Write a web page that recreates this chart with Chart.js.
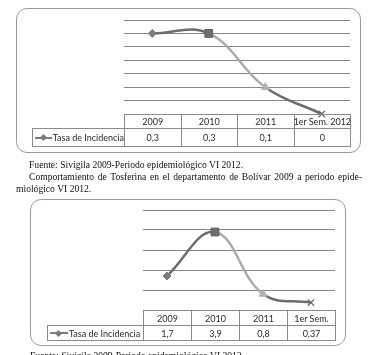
<!DOCTYPE html>
<html><head><meta charset="utf-8">
<script src="https://cdn.jsdelivr.net/npm/chart.js@4"></script>
<style>
html,body{margin:0;padding:0;background:#fff;}
body{width:383px;height:355px;overflow:hidden;position:relative;}
.box{position:absolute;border:1.5px solid #9a9a9a;border-radius:11px;box-sizing:border-box;}
.cv{position:absolute;}
.cell{position:absolute;box-sizing:border-box;font-family:Lato,"Open Sans",sans-serif;font-size:9px;color:#2a2a2a;
 display:flex;align-items:center;justify-content:center;white-space:nowrap;}
.txt{position:absolute;font-family:"Liberation Serif","Times New Roman",serif;font-size:9.6px;color:#111;white-space:nowrap;}
.just{text-align:justify;text-align-last:justify;white-space:normal;}
.leg{display:inline-block;position:relative;width:18px;height:8px;margin-right:1px;vertical-align:middle;}
.leg:before{content:"";position:absolute;left:0;right:0;top:3px;height:2px;background:#7a7a7a;}
.leg:after{content:"";position:absolute;left:6px;top:1.5px;width:5px;height:5px;background:#7a7a7a;transform:rotate(45deg);}
</style></head>
<body>
<div class="box" style="left:16px;top:8px;width:345px;height:145px"></div>
<div class="box" style="left:30px;top:199px;width:316px;height:147px"></div>
<canvas id="c1" class="cv" width="246" height="114" style="left:114px;top:10px"></canvas>
<canvas id="c2" class="cv" width="212" height="120" style="left:133px;top:200px"></canvas>
<div id="t1"></div><div id="t2"></div>
<div class="txt" style="left:29px;top:159px">Fuente: Sivigila 2009-Periodo epidemiológico VI 2012.</div>
<div class="txt just" style="left:29px;top:171px;width:333px">Comportamiento de Tosferina en el departamento de Bolívar 2009 a periodo epide-</div>
<div class="txt" style="left:16px;top:183px">miológico VI 2012.</div>
<div class="txt" style="left:30px;top:350px">Fuente: Sivigila 2009-Periodo epidemiológico VI 2012.</div>
<script>
// ---- data ----
const seriesName = "Tasa de Incidencia";
const categories1 = ["2009", "2010", "2011", "1er Sem. 2012"];
const values1 = [0.3, 0.3, 0.1, 0];
const categories2 = ["2009", "2010", "2011", "1er Sem."];
const values2 = [1.7, 3.9, 0.8, 0.37];

function fmt(v){ return String(v).replace('.', ','); }

function makeTable(id, left, top, labelW, colW, h1, h2, cats, vals){
  const el = document.getElementById(id);
  let html = '';
  const bc = '#8a8a8a';
  cats.forEach((c,i)=>{
    const x = left + labelW + i*colW;
    html += `<div class="cell" style="left:${x}px;top:${top}px;width:${colW+1}px;height:${h1+1}px;border:1px solid ${bc}">${c}</div>`;
    html += `<div class="cell" style="left:${x}px;top:${top+h1}px;width:${colW+1}px;height:${h2+1}px;border:1px solid ${bc}">${fmt(vals[i])}</div>`;
  });
  html += `<div class="cell" style="left:${left}px;top:${top+h1}px;width:${labelW+1}px;height:${h2+1}px;border:1px solid ${bc};justify-content:flex-start;padding-left:2px"><span class="leg"></span>${seriesName}</div>`;
  el.innerHTML = html;
}
makeTable('t1', 32, 114, 92, 56.5, 14, 18, categories1, values1);
makeTable('t2', 47, 310, 96, 48, 15, 15, categories2, values2);

function makeChart(id, labels, values, ymax, step, pad){
  const segCols = ['#6c6c6c', '#ababab', '#6c6c6c'];
  new Chart(document.getElementById(id), {
    type: 'line',
    data: { labels: labels, datasets: [{
      data: values, borderWidth: 2.5, tension: 0.4, clip: false,
      segment: { borderColor: c => segCols[c.p0DataIndex] },
      borderColor: '#6c6c6c',
      pointStyle: ['rectRot', 'rect', 'triangle', 'crossRot'],
      pointRadius: [4, 5.5, 4.5, 4.5],
      pointBackgroundColor: ['#7d7d7d', '#6e6e6e', '#b2b2b2', '#6e6e6e'],
      pointBorderColor: ['#7d7d7d', '#5e5e5e', '#b2b2b2', '#6e6e6e'],
      pointBorderWidth: [1, 1, 1, 1.3]
    }]},
    options: {
      responsive: false, animation: false,
      layout: { padding: pad },
      plugins: { legend: { display: false }, tooltip: { enabled: false } },
      scales: {
        x: { display: false, offset: true },
        y: { min: 0, max: ymax, ticks: { display: false, stepSize: step },
             grid: { color: '#858585', drawTicks: false, lineWidth: 1 },
             border: { display: false } }
      }
    }
  });
}
makeChart('c1', categories1, values1, 0.35, 0.05, {left:10, right:10, top:10, bottom:10});
makeChart('c2', categories2, values2, 5, 1, {left:10, right:10, top:10, bottom:10});
</script>
</body></html>
